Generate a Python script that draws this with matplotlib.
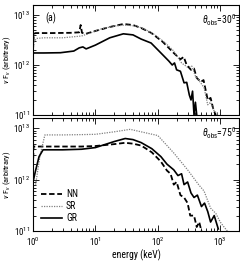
import matplotlib
matplotlib.use("Agg")
import matplotlib.pyplot as plt
import numpy as np

plt.rcParams['font.family'] = ['Roboto Condensed', 'DejaVu Sans']
plt.rcParams['mathtext.fontset'] = 'custom'
plt.rcParams['mathtext.rm'] = 'Roboto Condensed'
plt.rcParams['mathtext.it'] = 'Roboto Condensed:italic'

# energies in keV, fluxes in units of 1e12 (arbitrary)
# panel (a): theta_obs = 30 deg
top_nn_e = [1.0, 1.03, 1.1, 2.0, 4.0, 5.5, 5.8, 6.1, 7.0, 10, 17, 28, 40, 54, 78, 120, 180,
            230, 260, 290, 340, 380, 420, 490, 540, 630, 700, 780, 850]
top_nn_f = [2.0, 4.2, 4.35, 4.35, 4.4, 4.5, 6.3, 4.4, 4.2, 4.8, 5.75, 6.6, 6.3, 5.5, 4.4, 2.9, 1.74,
            1.3, 1.45, 1.0, 0.8, 0.85, 0.55, 0.46, 0.5, 0.2, 0.22, 0.126, 0.1]
top_sr_e = [1.0, 1.05, 1.15, 1.5, 3, 6, 8, 12, 20, 30, 45, 60, 90, 130, 180, 240, 300, 350,
            400, 480, 550, 630, 700, 800, 870, 930]
top_sr_f = [2.0, 3.0, 3.4, 3.5, 3.5, 3.8, 4.3, 5.2, 6.0, 6.3, 6.0, 5.3, 4.0, 2.8, 1.9, 1.1, 0.9, 0.95,
            0.6, 0.45, 0.35, 0.16, 0.18, 0.12, 0.11, 0.1]
top_gr_e = [1.0, 1.02, 1.5, 2.75, 4.5, 5.5, 6.3, 7.1, 10, 17, 28, 40, 54, 78, 112, 150, 170, 185,
            200, 230, 263, 290, 320, 340, 360, 380, 400, 420]
top_gr_f = [1.6, 1.74, 1.74, 1.76, 1.9, 2.2, 2.3, 2.1, 2.5, 3.5, 4.2, 4.0, 3.3, 2.75, 1.74, 1.2, 1.0, 1.1,
            0.8, 0.75, 0.44, 0.45, 0.25, 0.2, 0.3, 0.1, 0.18, 0.1]

# panel (b): theta_obs = 75 deg
bot_nn_e = [1.0, 1.02, 1.5, 3, 6, 10, 20, 30, 40, 54, 80, 112, 140, 160, 180, 200, 230, 263,
            300, 330, 380, 420, 460, 500]
bot_nn_f = [1.8, 4.4, 4.4, 4.4, 4.4, 4.5, 4.9, 5.2, 5.0, 4.6, 3.4, 2.24, 1.5, 1.3, 0.8, 0.9, 0.5, 0.45,
            0.35, 0.2, 0.2, 0.12, 0.15, 0.1]
bot_sr_e = [1.1, 1.3, 1.55, 3, 6, 10, 20, 36, 54, 100, 180, 300, 450, 550, 700, 850, 1000, 1150, 1300]
bot_sr_f = [0.8, 3.0, 7.4, 7.4, 7.5, 7.6, 8.5, 9.5, 8.5, 7.2, 3.3, 1.55, 0.8, 0.6, 0.28, 0.22, 0.15, 0.12, 0.1]
bot_gr_e = [1.0, 1.1, 1.25, 1.45, 3, 6, 10, 20, 30, 40, 54, 80, 112, 140, 180, 210, 240, 263, 300,
            340, 380, 430, 500, 560, 630, 700, 800, 930]
bot_gr_f = [0.9, 1.5, 2.8, 3.8, 3.8, 3.9, 4.2, 5.5, 6.3, 6.0, 5.25, 4.0, 2.8, 2.0, 1.55, 1.2, 1.3, 0.8, 0.9,
            0.55, 0.45, 0.5, 0.3, 0.35, 0.24, 0.15, 0.2, 0.11]

panels = [
    (top_nn_e, top_nn_f, top_sr_e, top_sr_f, top_gr_e, top_gr_f, '30'),
    (bot_nn_e, bot_nn_f, bot_sr_e, bot_sr_f, bot_gr_e, bot_gr_f, '75'),
]

fig = plt.figure(figsize=(2.4, 2.62), dpi=100)
ax1 = fig.add_axes([0.1375, 0.561, 0.8585, 0.42])
ax2 = fig.add_axes([0.1375, 0.118, 0.8585, 0.432])

for ax, (ne, nf, se, sf, ge, gf, ang) in zip([ax1, ax2], panels):
    ax.plot(ne, np.array(nf) * 1e12, color='k', ls=(0, (3, 1.5)), lw=1.3, label='NN')
    ax.plot(se, np.array(sf) * 1e12, color='0.5', ls=(0, (1, 1)), lw=0.9, label='SR')
    ax.plot(ge, np.array(gf) * 1e12, color='k', ls='-', lw=1.2, label='GR')
    ax.set_xscale('log')
    ax.set_yscale('log')
    ax.set_xlim(1, 2000)
    ax.set_ylim(1e11, 10 ** 13.2)
    ax.tick_params(which='both', direction='in', top=True, right=True, labelsize=6.5, pad=2)
    ax.tick_params(axis='x', pad=3)
    ax.tick_params(which='major', length=4, width=0.6)
    ax.tick_params(which='minor', length=2, width=0.6)
    for s in ax.spines.values():
        s.set_linewidth(0.8)
    ax.set_ylabel(r'$\nu$ F$_\nu$ (arbitrary)', fontsize=6)
    ax.yaxis.set_label_coords(-0.097, 0.5)
    ax.text(0.985, 0.93, r'$\theta_{\rm obs}$=' + ang + r'$^0$', transform=ax.transAxes,
            ha='right', va='top', fontsize=7)

ax1.tick_params(labelbottom=False)
ax1.text(0.06, 0.93, '(a)', transform=ax1.transAxes, ha='left', va='top', fontsize=7)
ax2.set_xlabel('energy (keV)', fontsize=7, labelpad=1)
ax2.legend(loc='lower left', frameon=False, fontsize=7, handlelength=2.2,
           handletextpad=0.4, labelspacing=0.2, borderaxespad=0.4)

fig.savefig('out.png', dpi=100)
